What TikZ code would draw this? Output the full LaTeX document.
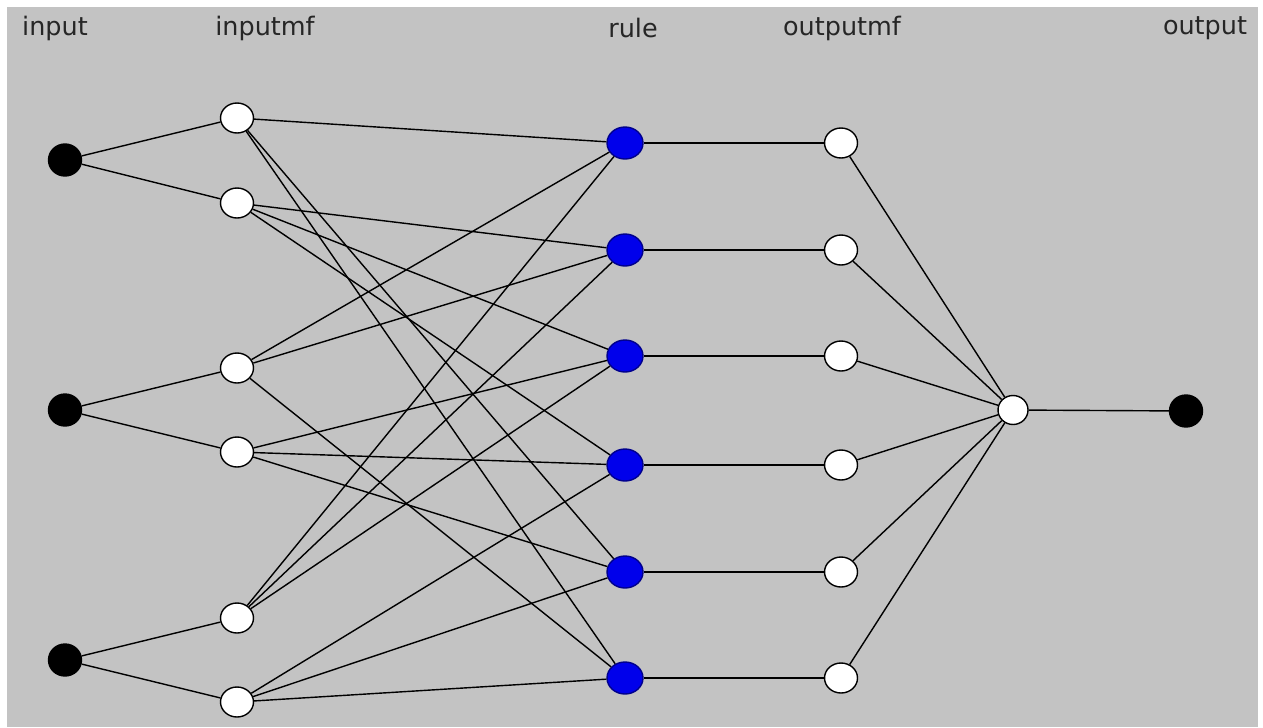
\documentclass[tikz,border=0pt]{standalone}
\usepackage{fontspec}
\setmainfont{DejaVu Sans}
\usetikzlibrary{shapes.geometric}
\definecolor{panelgray}{RGB}{195,195,195}
\definecolor{ruleblue}{RGB}{0,0,235}

\begin{document}
\begin{tikzpicture}
[
x = 0.02cm, y = -0.02cm,
dot/.style = {ellipse, draw, line width=0.8pt, inner sep=0pt, minimum width=0.66cm, minimum height=0.6cm},
innode/.style = {dot, fill=black, minimum height=0.64cm},
mfnode/.style = {dot, fill=white},
rulenode/.style = {dot, fill=ruleblue, draw=ruleblue!60!black, minimum width=0.72cm, minimum height=0.64cm},
layer/.style = {font=\fontsize{14.5}{17}\selectfont, text=black!85},
link/.style = {line width=0.8pt}
]
\useasboundingbox (0,0) rectangle (1263,727);
\fill [white] (0,0) rectangle (1263,727);
\fill [panelgray] (7,7) rectangle (1258,727);

% layer titles
\node [layer] (tin)   at (55,28)   {input};
\node [layer] (tmf)   at (265,28)  {inputmf};
\node [layer] (trule) at (633,28)  {rule};
\node [layer] (tomf)  at (842,28)  {outputmf};
\node [layer] (tout)  at (1205,28) {output};

% inputs
\node [innode] (in1) at (65,160) {};
\node [innode] (in2) at (65,410) {};
\node [innode] (in3) at (65,660) {};

% input membership functions
\node [mfnode] (mf1) at (237,118) {};
\node [mfnode] (mf2) at (237,203) {};
\node [mfnode] (mf3) at (237,368) {};
\node [mfnode] (mf4) at (237,452) {};
\node [mfnode] (mf5) at (237,618) {};
\node [mfnode] (mf6) at (237,702) {};

% rules
\node [rulenode] (r1) at (625,143) {};
\node [rulenode] (r2) at (625,250) {};
\node [rulenode] (r3) at (625,356) {};
\node [rulenode] (r4) at (625,465) {};
\node [rulenode] (r5) at (625,572) {};
\node [rulenode] (r6) at (625,678) {};

% output membership functions
\node [mfnode] (om1) at (841,143) {};
\node [mfnode] (om2) at (841,250) {};
\node [mfnode] (om3) at (841,356) {};
\node [mfnode] (om4) at (841,465) {};
\node [mfnode] (om5) at (841,572) {};
\node [mfnode] (om6) at (841,678) {};

% sum and output
\node [mfnode, minimum width=0.6cm, minimum height=0.58cm] (sum) at (1013,410) {};
\node [innode] (out) at (1186,411) {};

% input -> inputmf
\draw [link] (in1) -- (mf1);
\draw [link] (in1) -- (mf2);
\draw [link] (in2) -- (mf3);
\draw [link] (in2) -- (mf4);
\draw [link] (in3) -- (mf5);
\draw [link] (in3) -- (mf6);

% inputmf -> rule
\draw [link] (mf1) -- (r1);
\draw [link] (mf1) -- (r5);
\draw [link] (mf1) -- (r6);
\draw [link] (mf2) -- (r2);
\draw [link] (mf2) -- (r3);
\draw [link] (mf2) -- (r4);
\draw [link] (mf3) -- (r1);
\draw [link] (mf3) -- (r2);
\draw [link] (mf3) -- (r6);
\draw [link] (mf4) -- (r3);
\draw [link] (mf4) -- (r4);
\draw [link] (mf4) -- (r5);
\draw [link] (mf5) -- (r1);
\draw [link] (mf5) -- (r2);
\draw [link] (mf5) -- (r3);
\draw [link] (mf6) -- (r4);
\draw [link] (mf6) -- (r5);
\draw [link] (mf6) -- (r6);

% rule -> outputmf -> sum
\draw [link] (r1) -- (om1);
\draw [link] (r2) -- (om2);
\draw [link] (r3) -- (om3);
\draw [link] (r4) -- (om4);
\draw [link] (r5) -- (om5);
\draw [link] (r6) -- (om6);
\draw [link] (om1) -- (sum);
\draw [link] (om2) -- (sum);
\draw [link] (om3) -- (sum);
\draw [link] (om4) -- (sum);
\draw [link] (om5) -- (sum);
\draw [link] (om6) -- (sum);
\draw [link] (sum) -- (out);
\end{tikzpicture}
\end{document}
